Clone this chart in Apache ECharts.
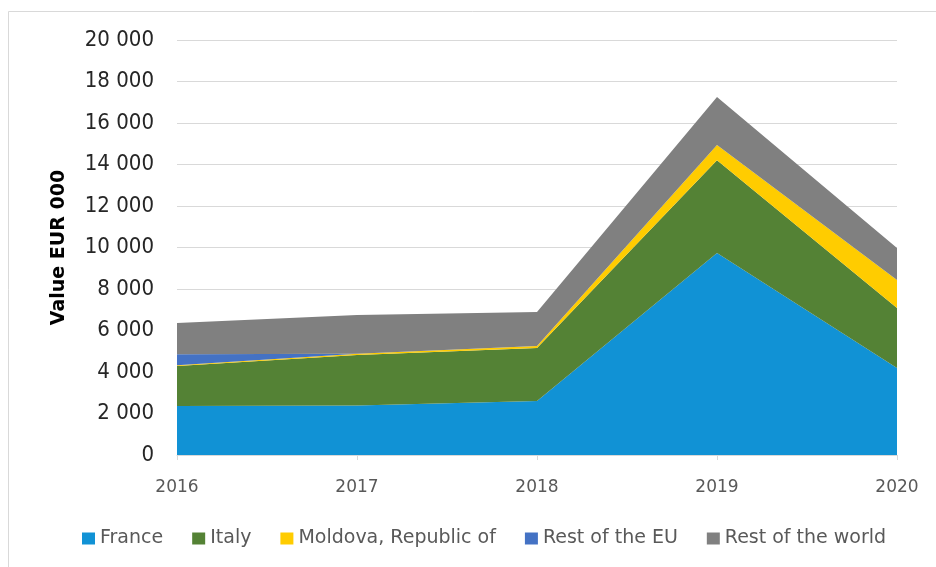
<!DOCTYPE html>
<html>
<head>
<meta charset="utf-8">
<script src="https://cdn.jsdelivr.net/npm/echarts@6/dist/echarts.min.js"></script>
<style>
  html, body { margin: 0; padding: 0; background: #fff; }
  #chart { width: 936px; height: 567px; }
</style>
</head>
<body>
<div id="chart"></div>
<script>
// Import values by origin, EUR 000
const years = ['2016', '2017', '2018', '2019', '2020'];
const france = [2360, 2380, 2600, 9730, 4190];
const italy = [1930, 2440, 2560, 4470, 2890];
const moldova = [40, 60, 90, 740, 1350];
const restEU = [530, 0, 0, 0, 0];
const restWorld = [1500, 1870, 1640, 2310, 1550];

const seriesNames = ['France', 'Italy', 'Moldova, Republic of', 'Rest of the EU', 'Rest of the world'];
const seriesData = [france, italy, moldova, restEU, restWorld];
const seriesColors = ['#1192D5', '#548235', '#FFCC00', '#4472C4', '#808080'];

const fontFamily = 'DejaVu Sans';
const condensedFamily = '"DejaVu Sans Condensed", "DejaVu Sans"';

function spaceThousands(v) {
  return String(v).replace(/\B(?=(\d{3})+(?!\d))/g, ' ');
}

const chart = echarts.init(document.getElementById('chart'), null, { renderer: 'canvas' });

chart.setOption({
  animation: false,
  backgroundColor: '#ffffff',
  textStyle: { fontFamily: fontFamily },
  graphic: [{
    type: 'rect',
    shape: { x: 8.5, y: 11.5, width: 940, height: 570 },
    style: { fill: 'none', stroke: '#d9d9d9', lineWidth: 1 },
    silent: true,
    z: -1
  }],
  grid: { left: 177, right: 39, top: 40, bottom: 112 },
  legend: {
    left: 77,
    top: 524,
    itemWidth: 13,
    itemHeight: 12,
    itemGap: 29,
    icon: 'rect',
    textStyle: { color: '#595959', fontSize: 19, fontFamily: fontFamily },
    data: seriesNames
  },
  xAxis: {
    type: 'category',
    data: years,
    boundaryGap: false,
    axisLine: { lineStyle: { color: '#d9d9d9' } },
    axisTick: { show: true, length: 5, lineStyle: { color: '#d9d9d9' } },
    axisLabel: { color: '#595959', fontSize: 17, margin: 24, fontFamily: fontFamily }
  },
  yAxis: {
    type: 'value',
    min: 0,
    max: 20000,
    interval: 2000,
    name: 'Value EUR 000',
    nameLocation: 'middle',
    nameGap: 108,
    nameTextStyle: { color: '#000', fontSize: 19, fontWeight: 'bold', fontFamily: fontFamily },
    axisLine: { show: false },
    axisTick: { show: false },
    splitLine: { lineStyle: { color: '#d9d9d9' } },
    axisLabel: {
      color: '#262626',
      fontSize: 22,
      margin: 23,
      fontFamily: condensedFamily,
      formatter: spaceThousands
    }
  },
  series: seriesNames.map((name, i) => ({
    name: name,
    type: 'line',
    stack: 'total',
    data: seriesData[i],
    symbol: 'none',
    lineStyle: { width: 0 },
    areaStyle: { color: seriesColors[i], opacity: 1 },
    itemStyle: { color: seriesColors[i] }
  }))
});
</script>
</body>
</html>
